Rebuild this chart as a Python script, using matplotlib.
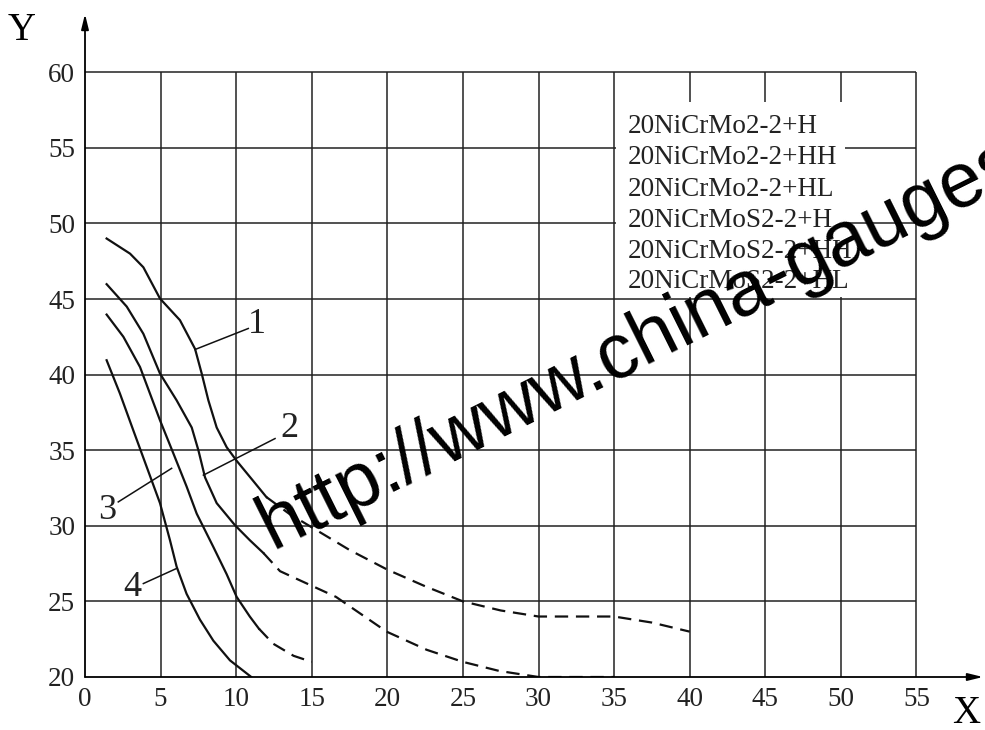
import matplotlib
matplotlib.use('Agg')
import matplotlib.pyplot as plt
from matplotlib.patches import Rectangle

plt.rcParams['font.family'] = ['Liberation Serif', 'DejaVu Serif']

# curve 1
c1_x = [1.43, 2.98, 3.86, 4.96, 6.28, 7.28, 7.72, 8.16, 8.71, 9.37, 10.03, 11.1, 12.0]
c1_y = [49.0, 48.0, 47.1, 45.03, 43.6, 41.7, 40.07, 38.3, 36.5, 35.2, 34.3, 33.0, 31.9]
c1d_x = [12.0, 13.5, 15.0, 17.5, 20.0, 22.5, 25.0, 27.5, 30.0, 32.5, 35.0, 37.5, 40.0]
c1d_y = [31.9, 30.8, 29.9, 28.4, 27.1, 26.0, 25.0, 24.4, 24.0, 24.0, 24.0, 23.6, 23.0]

# curve 2
c2_x = [1.43, 2.76, 3.86, 4.96, 6.06, 7.06, 7.5, 7.94, 8.71, 9.92, 10.9, 11.8]
c2_y = [45.98, 44.5, 42.7, 40.07, 38.3, 36.5, 35.0, 33.2, 31.5, 30.04, 29.05, 28.2]
c2d_x = [11.8, 12.9, 14.2, 16.6, 19.95, 22.6, 25.0, 27.4, 30.0, 35.0]
c2d_y = [28.2, 27.0, 26.4, 25.3, 23.0, 21.8, 21.0, 20.4, 20.0, 20.0]

# curve 3
c3_x = [1.43, 2.54, 3.64, 4.96, 5.84, 6.72, 7.39, 8.49, 9.37, 10.03, 10.9, 11.5]
c3_y = [43.97, 42.5, 40.5, 36.98, 34.8, 32.6, 30.8, 28.6, 26.8, 25.3, 24.0, 23.2]
c3d_x = [11.5, 12.45, 13.8, 15.0]
c3d_y = [23.2, 22.2, 21.4, 21.0]

# curve 4
c4_x = [1.43, 2.31, 3.2, 4.08, 4.96, 5.62, 6.06, 6.72, 7.6, 8.49, 9.59, 11.0]
c4_y = [40.95, 38.75, 36.3, 33.9, 31.5, 29.05, 27.3, 25.5, 23.8, 22.4, 21.1, 20.0]

# curve number labels and leader lines
num_labels = ['1', '2', '3', '4']
num_pos = [(11.4, 43.3), (13.5, 36.45), (1.45, 31.0), (3.1, 25.95)]
leader_start = [(7.28, 41.66), (7.83, 33.35), (5.73, 33.8), (6.06, 27.18)]
leader_end = [(10.8, 43.05), (12.57, 35.77), (2.2, 31.58), (3.86, 26.18)]

legend_items = ['20NiCrMo2-2+H', '20NiCrMo2-2+HH', '20NiCrMo2-2+HL',
                '20NiCrMoS2-2+H', '20NiCrMoS2-2+HH', '20NiCrMoS2-2+HL']
legend_y = [55.97, 53.92, 51.8, 49.75, 47.7, 45.71]

xticks = list(range(0, 60, 5))
yticks = list(range(20, 65, 5))

fig = plt.figure(figsize=(9.85, 7.3), dpi=100)
ax = fig.add_axes([85 / 985, 53 / 730, 898 / 985, 663 / 730])
ax.set_xlim(0, 59.4)
ax.set_ylim(20, 63.85)
for s in ax.spines.values():
    s.set_visible(False)

# grid
ax.vlines(xticks[1:], 20, 60, color='#222222', lw=1.1, zorder=1)
ax.hlines(yticks[1:], 0, 55, color='#222222', lw=1.1, zorder=1)

# white area behind the text list
ax.add_patch(Rectangle((35.1, 45.1), 15.2, 12.9, fc='white', ec='none', zorder=2))
for t, yy in zip(legend_items, legend_y):
    ax.text(35.93, yy, t, fontsize=19.5, va='baseline', ha='left', color='#222222', zorder=3)

# axes with arrows
arw = dict(arrowstyle='-|>,head_length=0.9,head_width=0.22', color='black', lw=1.3,
           shrinkA=0, shrinkB=0)
ax.annotate('', xy=(59.4, 20), xytext=(0, 20), arrowprops=arw, annotation_clip=False, zorder=4)
ax.annotate('', xy=(0, 63.85), xytext=(0, 20), arrowprops=arw, annotation_clip=False, zorder=4)

ax.set_xticks(xticks)
ax.set_yticks(yticks)
ax.tick_params(length=0, labelsize=19.5, pad=7, colors='#222222')

ax.text(-4.2, 62.75, 'Y', fontsize=28, ha='center', va='center', clip_on=False)
ax.text(58.3, 17.6, 'X', fontsize=28, ha='center', va='center', clip_on=False)

lw = 1.6
dash = (0, (6, 3.5))
ax.plot(c1_x, c1_y, color='#111111', lw=lw, zorder=3)
ax.plot(c1d_x, c1d_y, color='#111111', lw=lw, ls=dash, zorder=3)
ax.plot(c2_x, c2_y, color='#111111', lw=lw, zorder=3)
ax.plot(c2d_x, c2d_y, color='#111111', lw=lw, ls=dash, zorder=3)
ax.plot(c3_x, c3_y, color='#111111', lw=lw, zorder=3)
ax.plot(c3d_x, c3d_y, color='#111111', lw=lw, ls=dash, zorder=3)
ax.plot(c4_x, c4_y, color='#111111', lw=lw, zorder=3)

for lab, p, a, b in zip(num_labels, num_pos, leader_start, leader_end):
    ax.plot([a[0], b[0]], [a[1], b[1]], color='#111111', lw=1.1, zorder=3)
    ax.text(p[0], p[1], lab, fontsize=26, ha='center', va='center', color='#222222', zorder=3)

# watermark
fig.text(272 / 985, 1 - 550 / 730, 'http://www.china-gauges', fontsize=55.5,
         family=['Liberation Sans', 'DejaVu Sans'], rotation=26.5, rotation_mode='anchor',
         ha='left', va='baseline', color='black', zorder=10)

fig.savefig('out.png', dpi=100)
